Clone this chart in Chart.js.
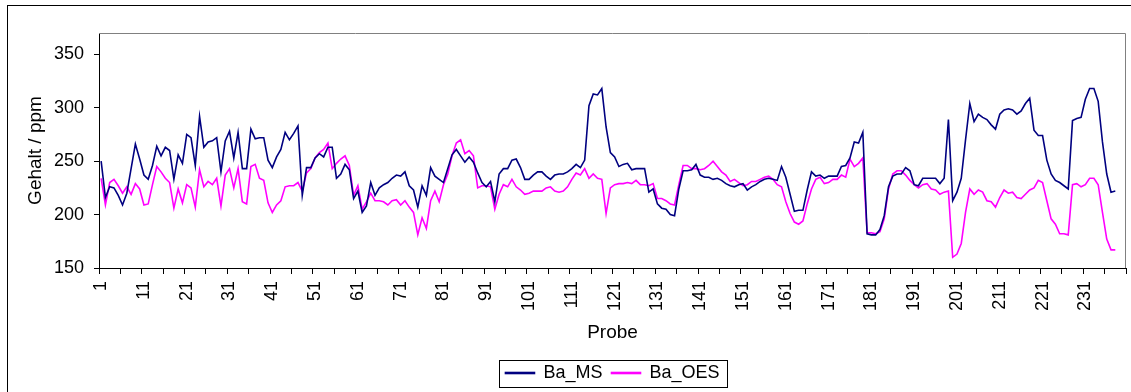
<!DOCTYPE html>
<html>
<head>
<meta charset="utf-8">
<script src="https://cdn.jsdelivr.net/npm/chart.js@4/dist/chart.umd.min.js"></script>
<style>
  html, body { margin: 0; padding: 0; background: #fff; }
  #wrap { width: 1131px; height: 392px; }
</style>
</head>
<body>
<div id="wrap"><canvas id="lineChart" width="1131" height="392"></canvas></div>
<script>
// sample numbers 1..240 on the category axis
const probe = Array.from({ length: 240 }, (_, i) => String(i + 1));

const baMS = [
  250, 216, 226, 225, 218, 209, 220, 243, 266, 252,
  237, 233, 246, 264, 255, 263, 260, 233, 256, 248,
  275, 272, 246, 292, 263, 268, 269, 272, 240, 269,
  278, 253, 277, 243, 243, 280, 271, 272, 272, 251,
  244, 254, 261, 277, 270, 276, 283, 218, 244, 244,
  253, 257, 254, 263, 263, 234, 238, 247, 242, 215,
  222, 202, 208, 230, 218, 225, 228, 230, 234, 237,
  236, 240, 227, 223, 207, 227, 218, 244, 236, 233,
  230, 243, 256, 261, 255, 249, 254, 249, 239, 230,
  226, 231, 212, 238, 243, 243, 251, 252, 244, 233,
  233, 237, 240, 240, 236, 233, 237, 238, 238, 240,
  243, 247, 244, 251, 302, 313, 312, 318, 282, 258,
  254, 245, 247, 248, 242, 243, 243, 243, 221, 224,
  210, 206, 205, 200, 199, 224, 241, 241, 242, 247,
  237, 235, 235, 233, 234, 232, 229, 227, 226, 228,
  229, 223, 226, 228, 231, 233, 234, 233, 232, 245,
  235, 219, 203, 204, 204, 223, 240, 236, 237, 234,
  236, 236, 236, 245, 246, 253, 268, 267, 277, 182,
  181, 181, 186, 199, 226, 236, 238, 238, 244, 241,
  228, 227, 234, 234, 234, 234, 229, 234, 289, 213,
  221, 234, 270, 304, 287, 294, 291, 289, 284, 280,
  294, 298, 299, 298, 294, 297, 304, 309, 279, 274,
  274, 251, 238, 232, 230, 227, 224, 288, 290, 291,
  308, 318, 318, 306, 268, 238, 221, 222
];

const baOES = [
  234, 209, 230, 233, 227, 220, 226, 219, 229, 224,
  209, 210, 228, 245, 240, 234, 230, 206, 224, 211,
  228, 225, 207, 242, 226, 231, 228, 234, 208, 237,
  243, 225, 243, 212, 210, 245, 247, 234, 232, 211,
  202, 209, 213, 226, 227, 227, 230, 222, 239, 243,
  253, 258, 261, 267, 243, 248, 252, 255, 246, 218,
  227, 205, 212, 220, 213, 213, 212, 209, 213, 214,
  209, 213, 207, 202, 181, 197, 187, 213, 222, 212,
  228, 238, 255, 267, 270, 257, 260, 255, 225, 227,
  227, 226, 205, 219, 228, 226, 233, 226, 223, 219,
  220, 222, 222, 222, 225, 226, 222, 221, 222, 226,
  233, 239, 237, 243, 234, 238, 234, 233, 201, 225,
  228, 229, 229, 230, 229, 232, 228, 228, 227, 229,
  215, 215, 213, 210, 209, 228, 246, 246, 243, 243,
  242, 243, 246, 250, 245, 240, 237, 231, 233, 230,
  227, 228, 231, 231, 233, 235, 236, 233, 228, 226,
  212, 201, 193, 191, 194, 210, 224, 233, 235, 229,
  230, 233, 233, 237, 235, 252, 245, 248, 253, 183,
  183, 182, 184, 196, 224, 238, 241, 241, 237, 232,
  228, 225, 228, 229, 224, 223, 219, 221, 222, 160,
  163, 173, 202, 224, 219, 223, 221, 213, 212, 207,
  216, 223, 220, 221, 216, 215, 219, 223, 225, 232,
  230, 213, 196, 191, 182, 182, 181, 228, 229, 226,
  228, 234, 234, 228, 202, 177, 167, 167
];

const yTicks = [150, 200, 250, 300, 350];

const FONT = 'Liberation Sans, Arial, sans-serif';

// frame round the whole chart, grey top/right edge of the plot area, box round the legend
const framePlugin = {
  id: 'frames',
  afterLayout(chart) {
    // centre the legend under the plot area
    const a = chart.chartArea;
    const lg = chart.legend;
    const w = lg.right - lg.left;
    lg.left = (a.left + a.right) / 2 - w / 2;
    lg.right = lg.left + w;
  },
  beforeDatasetsDraw(chart) {
    const { ctx, chartArea: a } = chart;
    ctx.save();
    ctx.strokeStyle = '#808080';
    ctx.lineWidth = 1;
    ctx.beginPath();
    ctx.moveTo(a.left, a.top + 0.5);
    ctx.lineTo(a.right - 0.5, a.top + 0.5);
    ctx.lineTo(a.right - 0.5, a.bottom);
    ctx.stroke();
    ctx.restore();
  },
  afterDraw(chart) {
    const ctx = chart.ctx;
    ctx.save();
    ctx.strokeStyle = '#000';
    ctx.lineWidth = 1;
    ctx.strokeRect(7.5, 5.5, 1300, 600);
    const hb = chart.legend.legendHitBoxes;
    if (hb && hb.length) {
      const last = hb[hb.length - 1];
      const left = Math.round(hb[0].left - 6) + 0.5;
      const right = Math.round(last.left + last.width + 7) + 0.5;
      const cy = hb[0].top + hb[0].height / 2;
      ctx.strokeRect(left, Math.round(cy - 13) + 0.5, right - left, 27);
    }
    ctx.restore();
  }
};

new Chart(document.getElementById('lineChart'), {
  type: 'line',
  data: {
    labels: probe,
    datasets: [
      {
        label: 'Ba_MS',
        data: baMS,
        borderColor: '#000080',
        backgroundColor: '#000080',
        borderWidth: 1.6,
        pointRadius: 0,
        tension: 0
      },
      {
        label: 'Ba_OES',
        data: baOES,
        borderColor: '#ff00ff',
        backgroundColor: '#ff00ff',
        borderWidth: 1.6,
        pointRadius: 0,
        tension: 0
      }
    ]
  },
  options: {
    responsive: false,
    animation: false,
    layout: {
      padding: { top: 33, left: 20, right: 5, bottom: 0 }
    },
    plugins: {
      tooltip: { enabled: false },
      legend: {
        position: 'bottom',
        fullSize: false,
        labels: {
          color: '#000',
          font: { family: FONT, size: 18 },
          boxWidth: 29,
          boxHeight: 1,
          padding: 9
        }
      }
    },
    scales: {
      x: {
        type: 'category',
        offset: true,
        afterFit(scale) {
          scale.height = 87;
          scale.paddingLeft = 0;
          scale.paddingRight = 0;
        },
        grid: {
          offset: true,
          drawOnChartArea: false,
          tickLength: 6,
          color: ctx => (ctx.tick === undefined || ctx.index % 5 === 0) ? '#000' : 'rgba(0,0,0,0)'
        },
        border: { display: true, color: '#000', width: 1 },
        ticks: {
          autoSkip: false,
          maxRotation: 90,
          minRotation: 90,
          padding: 7,
          color: '#000',
          font: { family: FONT, size: 18 },
          callback: (val, idx) => idx % 10 === 0 ? probe[idx] : ''
        },
        title: {
          display: true,
          text: 'Probe',
          color: '#000',
          font: { family: FONT, size: 19 },
          padding: { top: 0, bottom: 11 }
        }
      },
      y: {
        min: 150,
        max: 370,
        afterFit(scale) { scale.width = 79; },
        afterBuildTicks(scale) { scale.ticks = yTicks.map(v => ({ value: v })); },
        grid: {
          drawOnChartArea: false,
          tickLength: 5,
          color: '#000'
        },
        border: { display: true, color: '#000', width: 1 },
        ticks: {
          padding: 10,
          color: '#000',
          font: { family: FONT, size: 18 }
        },
        title: {
          display: true,
          text: 'Gehalt / ppm',
          color: '#000',
          font: { family: FONT, size: 19 },
          padding: { top: 4, bottom: 4 }
        }
      }
    }
  },
  plugins: [framePlugin]
});
</script>
</body>
</html>
